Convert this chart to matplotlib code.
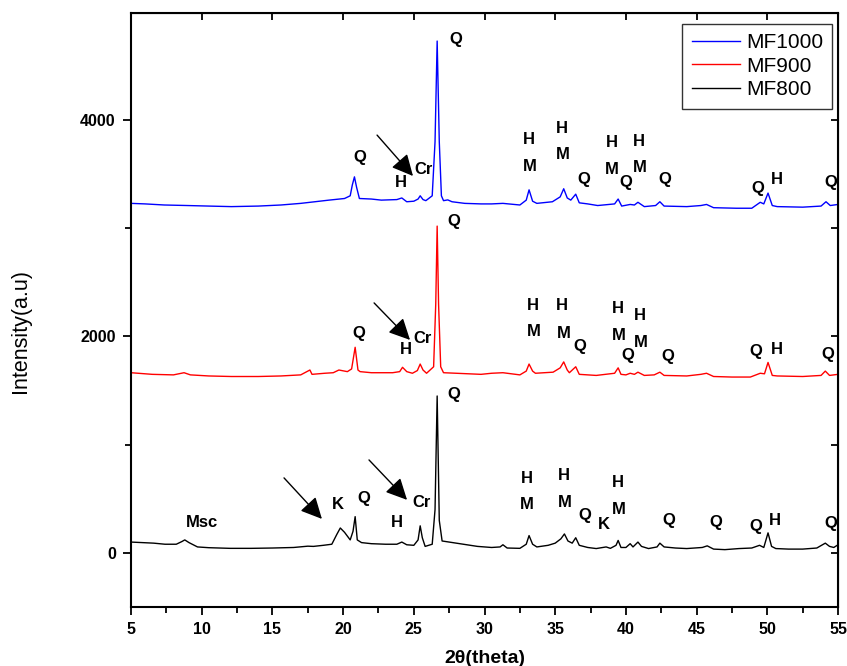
import matplotlib
matplotlib.use('Agg')
import matplotlib.pyplot as plt

plt.rcParams['font.family'] = ['Liberation Sans', 'DejaVu Sans']

# 2theta / intensity
tt_800 = [5.0, 5.8, 6.6, 7.4, 8.2, 8.6, 8.8, 9.1, 9.7, 10.5, 12.0, 13.5, 15.0, 16.5, 17.5, 17.9,
          18.6, 19.2, 19.55, 19.8, 20.1, 20.5, 20.7, 20.85, 21.0, 21.3, 22.0, 23.0, 23.8, 24.15,
          24.5, 25.0, 25.3, 25.45, 25.6, 25.8, 26.3, 26.5, 26.65, 26.8, 27.0, 27.5, 28.5, 29.5,
          30.5, 31.1, 31.3, 31.6, 32.5, 32.95, 33.15, 33.4, 33.7, 34.5, 35.0, 35.4, 35.65, 35.9,
          36.2, 36.45, 36.7, 37.3, 37.9, 38.6, 38.9, 39.3, 39.45, 39.65, 40.0, 40.3, 40.5, 40.85,
          41.1, 41.6, 42.2, 42.4, 42.7, 43.5, 44.3, 45.4, 45.75, 46.2, 47.0, 48.0, 48.9, 49.45,
          49.75, 50.05, 50.3, 50.6, 51.5, 52.5, 53.5, 54.1, 54.4, 54.7, 55.0]
i_800 = [100, 95, 90, 80, 80, 105, 120, 95, 55, 48, 42, 42, 45, 50, 62, 60,
         70, 80, 170, 230, 190, 120, 200, 335, 120, 95, 85, 80, 80, 100,
         75, 70, 120, 250, 140, 60, 80, 400, 1450, 300, 110, 100, 80, 60,
         50, 55, 75, 45, 42, 80, 160, 80, 55, 70, 90, 130, 175, 110,
         90, 140, 70, 50, 40, 55, 42, 70, 115, 50, 50, 85, 55, 100,
         60, 40, 55, 90, 55, 45, 40, 50, 65, 35, 30, 40, 45, 70,
         50, 185, 60, 40, 35, 35, 45, 90, 60, 50, 75]

tt_900 = [5.0, 6.5, 8.0, 8.75, 9.2, 10.5, 12.1, 14.0, 15.6, 17.0, 17.65, 17.8, 18.7, 19.3, 19.7,
          20.3, 20.6, 20.85, 21.05, 21.2, 22.0, 23.5, 24.0, 24.2, 24.5, 24.9, 25.25, 25.45, 25.65,
          25.9, 26.4, 26.55, 26.65, 26.75, 26.9, 27.1, 28.0, 29.75, 30.5, 31.3, 32.5, 32.95, 33.15,
          33.4, 33.6, 34.85, 35.35, 35.6, 35.85, 36.0, 36.45, 36.7, 37.9, 39.2, 39.45, 39.65, 40.0,
          40.3, 40.6, 40.85, 41.3, 42.0, 42.4, 42.7, 44.3, 45.3, 45.7, 46.2, 47.5, 48.8, 49.5,
          49.8, 50.05, 50.35, 50.7, 52.5, 53.8, 54.1, 54.4, 55.0]
i_900 = [1665, 1650, 1645, 1665, 1645, 1635, 1630, 1630, 1635, 1645, 1690, 1650, 1660, 1665, 1690,
         1675, 1700, 1900, 1690, 1675, 1665, 1665, 1675, 1715, 1675, 1660, 1685, 1745, 1690,
         1660, 1720, 2300, 3020, 2300, 1720, 1665, 1660, 1650, 1660, 1665, 1645, 1680, 1745,
         1680, 1660, 1670, 1710, 1765, 1690, 1665, 1720, 1650, 1640, 1660, 1710, 1650, 1645,
         1660, 1650, 1670, 1640, 1645, 1670, 1640, 1635, 1650, 1660, 1630, 1625, 1625, 1660,
         1655, 1760, 1640, 1635, 1630, 1640, 1680, 1640, 1650]

tt_1000 = [5.0, 6.0, 7.35, 9.0, 10.5, 12.1, 14.0, 15.6, 17.0, 18.0, 19.0, 20.1, 20.5, 20.65, 20.8,
           20.95, 21.15, 22.0, 22.7, 23.8, 24.15, 24.5, 25.0, 25.3, 25.45, 25.65, 25.85, 26.3, 26.5,
           26.65, 26.8, 26.95, 27.1, 27.4, 27.7, 28.6, 29.75, 30.5, 31.3, 32.5, 32.95, 33.15, 33.4,
           33.7, 34.8, 35.35, 35.6, 35.85, 36.1, 36.45, 36.7, 37.3, 38.0, 39.2, 39.45, 39.7, 40.3,
           40.6, 40.85, 41.3, 42.1, 42.4, 42.7, 44.3, 45.3, 45.7, 46.2, 47.8, 48.9, 49.5, 49.75,
           50.05, 50.35, 50.7, 52.5, 53.8, 54.15, 54.45, 55.0]
i_1000 = [3230, 3225, 3215, 3210, 3205, 3200, 3205, 3215, 3230, 3245, 3260, 3275, 3300, 3400, 3475,
          3380, 3275, 3270, 3260, 3265, 3280, 3245, 3250, 3270, 3300, 3265, 3255, 3300, 3800,
          4730, 3800, 3300, 3255, 3262, 3245, 3230, 3225, 3225, 3230, 3215, 3260, 3355, 3250,
          3230, 3245, 3290, 3365, 3280, 3260, 3315, 3235, 3225, 3210, 3225, 3270, 3205, 3220,
          3215, 3240, 3200, 3210, 3245, 3205, 3200, 3210, 3220, 3190, 3185, 3185, 3240, 3225,
          3325, 3210, 3200, 3195, 3205, 3245, 3210, 3220]

# phase labels (text, 2theta, intensity)
labels_1000 = [('Q', 27.95, 4740), ('Q', 21.16, 3654), ('H', 24.06, 3427), ('Cr', 25.72, 3547),
               ('H', 33.11, 3820), ('M', 33.2, 3575), ('H', 35.48, 3926), ('M', 35.55, 3681),
               ('Q', 37.0, 3450), ('H', 38.98, 3792), ('M', 39.0, 3543), ('Q', 40.0, 3427),
               ('H', 40.9, 3806), ('M', 40.96, 3557), ('Q', 42.77, 3450), ('Q', 49.3, 3372),
               ('H', 50.69, 3455), ('Q', 54.47, 3427)]
labels_900 = [('Q', 27.84, 3058), ('Q', 21.09, 2032), ('H', 24.41, 1875), ('Cr', 25.65, 1977),
              ('H', 33.39, 2286), ('M', 33.47, 2042), ('H', 35.48, 2282), ('M', 35.58, 2032),
              ('Q', 36.72, 1908), ('H', 39.44, 2254), ('M', 39.51, 2005), ('Q', 40.1, 1820),
              ('H', 40.96, 2194), ('M', 41.03, 1944), ('Q', 42.98, 1811), ('Q', 49.2, 1857),
              ('H', 50.69, 1880), ('Q', 54.26, 1829)]
labels_800 = [('Q', 27.84, 1464), ('Msc', 9.99, 277), ('K', 19.6, 448), ('Q', 21.48, 499),
              ('H', 23.78, 282), ('Cr', 25.58, 466), ('H', 32.97, 684), ('M', 33.0, 448),
              ('H', 35.59, 711), ('M', 35.66, 462), ('Q', 37.1, 346), ('K', 38.45, 263),
              ('H', 39.44, 647), ('M', 39.51, 397), ('Q', 43.05, 300), ('Q', 46.33, 282),
              ('Q', 49.16, 245), ('H', 50.55, 296), ('Q', 54.5, 273)]

# arrows: (start x, start y, tip x, tip y)
arrows = [(22.4, 3861, 24.94, 3483), (22.19, 2310, 24.73, 1968),
          (15.82, 693, 18.5, 314), (21.83, 859, 24.52, 490)]

fig = plt.figure(figsize=(8.47, 6.66), dpi=100)
ax = fig.add_axes([0.1547, 0.0886, 0.8347, 0.892])

ax.plot(tt_1000, i_1000, color='blue', lw=1, label='MF1000')
ax.plot(tt_900, i_900, color='red', lw=1, label='MF900')
ax.plot(tt_800, i_800, color='black', lw=1, label='MF800')

for lab in (labels_1000, labels_900, labels_800):
    for txt, x, y in lab:
        ax.text(x, y, txt, fontsize=12, fontweight='bold', ha='center', va='center')

for x0, y0, x1, y1 in arrows:
    ax.annotate('', xy=(x1, y1), xytext=(x0, y0),
                arrowprops=dict(arrowstyle='-|>,head_length=0.65,head_width=0.32',
                                color='black', lw=1, mutation_scale=20, shrinkA=0, shrinkB=0))

ax.set_xlim(5, 55)
ax.set_ylim(-500, 4990)
ax.set_xticks(range(5, 56, 5))
ax.set_xticks([x + 2.5 for x in range(5, 55, 5)], minor=True)
ax.set_yticks([0, 2000, 4000])
ax.set_yticks([1000, 3000], minor=True)
ax.tick_params(which='major', length=6, width=1.3, labelsize=11.5, pad=5)
ax.tick_params(which='minor', length=4, width=1.3)
for t in ax.get_xticklabels() + ax.get_yticklabels():
    t.set_fontweight('bold')

# inward ticks on top and right
axt = ax.secondary_xaxis('top')
axt.set_xticks(range(5, 56, 5))
axt.tick_params(direction='in', length=5, width=1.3, labeltop=False)
axr = ax.secondary_yaxis('right')
axr.set_yticks([0, 1000, 2000, 3000, 4000])
axr.tick_params(direction='in', length=5, width=1.3, labelright=False)

for s in ax.spines.values():
    s.set_linewidth(1.5)

ax.set_xlabel('2θ(theta)', fontsize=14, fontweight='bold', labelpad=9)
ax.set_ylabel('Intensity(a.u)', fontsize=15.5)
ax.yaxis.set_label_coords(-0.141, 0.464)

leg = ax.legend(loc='upper right', bbox_to_anchor=(0.992, 0.982), borderaxespad=0,
                fontsize=15, fancybox=False, handlelength=2.3, handletextpad=0.3,
                labelspacing=0.22, borderpad=0.45, framealpha=1)
leg.get_frame().set_edgecolor('#333333')
leg.get_frame().set_linewidth(1.0)

fig.savefig('out.png', dpi=100)
